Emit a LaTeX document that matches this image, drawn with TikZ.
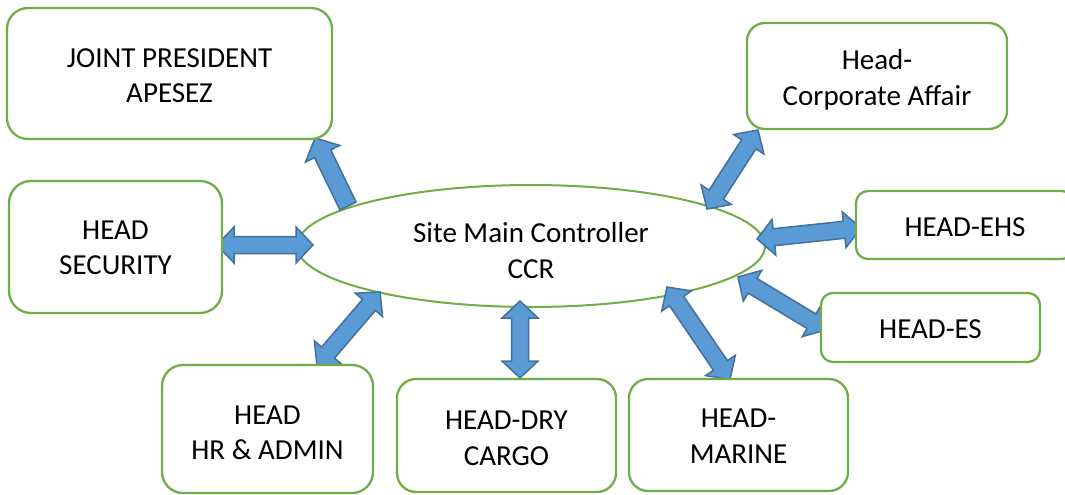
\documentclass[tikz,border=0pt]{standalone}
\usepackage{fontspec}
\setmainfont{Carlito}
\usetikzlibrary{calc,shapes.geometric}
\definecolor{boxgreen}{HTML}{70AD47}
\definecolor{arrfill}{HTML}{5B9BD5}
\definecolor{arrline}{HTML}{41719C}
\tikzset{
  orgbox/.style={draw=boxgreen, line width=2.3pt, fill=white, rounded corners=#1,
    inner sep=0pt},
  orgbox/.default=20pt,
  boxtext/.style={align=center, inner sep=0pt, font=\fontsize{29}{35.5}\selectfont},
  blockarr/.style={fill=arrfill, draw=arrline, line width=1.5pt, line join=miter},
}
% double-headed block arrow between two named coordinates
\newcommand\mydblarr[2]{%
  \coordinate (#1-h) at ($(#1)!17pt!(#2)$);
  \coordinate (#2-h) at ($(#2)!17pt!(#1)$);
  \draw[blockarr] (#1) -- ($(#1-h)!18pt!90:(#2)$) -- ($(#1-h)!8.5pt!90:(#2)$)
    -- ($(#2-h)!8.5pt!-90:(#1)$) -- ($(#2-h)!18pt!-90:(#1)$) -- (#2)
    -- ($(#2-h)!18pt!90:(#1)$) -- ($(#2-h)!8.5pt!90:(#1)$)
    -- ($(#1-h)!8.5pt!-90:(#2)$) -- ($(#1-h)!18pt!-90:(#2)$) -- cycle;
}
% single-headed block arrow: #1 base centre, #2 tip
\newcommand\mysglarr[2]{%
  \coordinate (#2-h) at ($(#2)!17.5pt!(#1)$);
  \draw[blockarr] ($(#1)!9pt!90:(#2)$) -- ($(#2-h)!9pt!-90:(#1)$)
    -- ($(#2-h)!19pt!-90:(#1)$) -- (#2) -- ($(#2-h)!19pt!90:(#1)$)
    -- ($(#2-h)!9pt!90:(#1)$) -- ($(#1)!9pt!-90:(#2)$) -- cycle;
}
\begin{document}
\begin{tikzpicture}[x=1pt,y=-1pt]
\useasboundingbox (0,0) rectangle (1065,495);

% central ellipse
\node[draw=boxgreen, line width=2pt, fill=white, ellipse, minimum width=468pt,
  minimum height=122pt, inner sep=0pt] (ccr) at (531,246) {};
\node[boxtext] (ccrtext) at ([yshift=-4.5pt]ccr.center) {Site Main Controller\\CCR};

% arrow end points
\coordinate (a1b) at (348,206);   \coordinate (a1t) at (315,138);
\coordinate (a2a) at (217,245);   \coordinate (a2b) at (313,245);
\coordinate (a3a) at (317,365.5); \coordinate (a3b) at (380,292);
\coordinate (a4a) at (520,301);   \coordinate (a4b) at (520,378);
\coordinate (a5a) at (667,287);   \coordinate (a5b) at (730,379.5);
\coordinate (a6a) at (738,277);   \coordinate (a6b) at (826,330);
\coordinate (a7a) at (757,239);   \coordinate (a7b) at (861,228);
\coordinate (a8a) at (707,209);   \coordinate (a8b) at (758,130);

\mysglarr{a1b}{a1t}
\mydblarr{a2a}{a2b}
\mydblarr{a3a}{a3b}
\mydblarr{a4a}{a4b}
\mydblarr{a5a}{a5b}
\mydblarr{a6a}{a6b}
\mydblarr{a7a}{a7b}
\mydblarr{a8a}{a8b}

% boxes
\node[orgbox=21pt, minimum width=325pt, minimum height=131pt] (jp) at (169.5,73.5) {};
\node[orgbox=22pt, minimum width=213pt, minimum height=132pt] (sec) at (115.5,247) {};
\node[orgbox=21pt, minimum width=211pt, minimum height=128pt] (hr) at (267.5,429) {};
\node[orgbox=19pt, minimum width=219pt, minimum height=113pt] (dry) at (506.5,435.5) {};
\node[orgbox=19pt, minimum width=219pt, minimum height=112pt] (mar) at (738.5,435) {};
\node[orgbox=12pt, minimum width=219pt, minimum height=69pt] (es) at (930.5,327.5) {};
\node[orgbox=12pt, minimum width=218pt, minimum height=68pt] (ehs) at (965,225) {};
\node[orgbox=18pt, minimum width=260pt, minimum height=106pt] (corp) at (877,76) {};

% box texts
\node[boxtext] (jpt)   at ([yshift=-2pt]jp.center)   {JOINT PRESIDENT\\APESEZ};
\node[boxtext] (sect)  at ([yshift=-1pt]sec.center)  {HEAD\\SECURITY};
\node[boxtext] (hrt)   at ([yshift=-4pt]hr.center)   {HEAD\\HR \& ADMIN};
\node[boxtext] (dryt)  at ([yshift=-3pt]dry.center)  {HEAD-DRY\\CARGO};
\node[boxtext] (mart)  at ([yshift=-1pt]mar.center)  {HEAD-\\MARINE};
\node[boxtext] (est)   at ([yshift=-2pt]es.center)   {HEAD-ES};
\node[boxtext] (ehst)  at ([yshift=-2pt]ehs.center)  {HEAD-EHS};
\node[boxtext] (corpt) at ([yshift=-4pt]corp.center) {Head-\\Corporate Affair};
\end{tikzpicture}
\end{document}
